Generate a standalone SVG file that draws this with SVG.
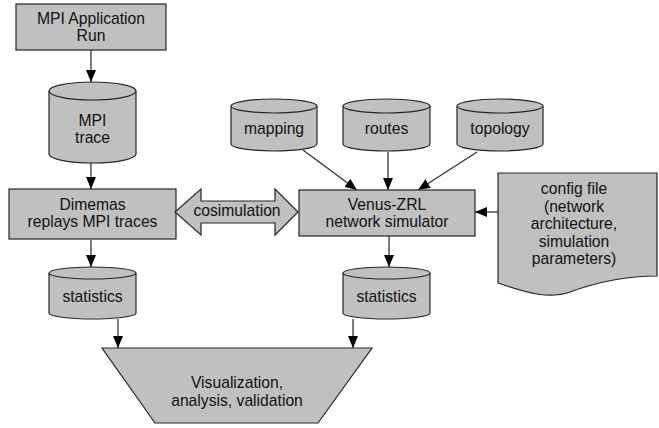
<svg xmlns="http://www.w3.org/2000/svg" width="659" height="428" viewBox="0 0 659 428">
<defs>
<style>
.s{fill:#c0c0c0;stroke:#262626;stroke-width:1.2}
.e{fill:none;stroke:#262626;stroke-width:1.2}
.t{font-family:"Liberation Sans",Arial,sans-serif;font-size:15.7px;fill:#111;text-anchor:middle}
.c{fill:none;stroke:#333;stroke-width:1.3}
</style>
<marker id="ah" markerUnits="userSpaceOnUse" markerWidth="12" markerHeight="10" refX="12" refY="5" orient="auto">
<path d="M0,0 L12,5 L0,10 Z" fill="#000"/>
</marker>
</defs>
<rect width="659" height="428" fill="#fff"/>

<g id="connectors">
<line class="c" x1="91" y1="50" x2="91" y2="82" marker-end="url(#ah)"/>
<line class="c" x1="91" y1="163" x2="91" y2="189" marker-end="url(#ah)"/>
<line class="c" x1="91" y1="240" x2="91" y2="267" marker-end="url(#ah)"/>
<line class="c" x1="118" y1="319" x2="118" y2="348" marker-end="url(#ah)"/>
<line class="c" x1="389" y1="236" x2="389" y2="267" marker-end="url(#ah)"/>
<line class="c" x1="353" y1="319" x2="353" y2="348" marker-end="url(#ah)"/>
<line class="c" x1="303" y1="150" x2="357" y2="190" marker-end="url(#ah)"/>
<line class="c" x1="388" y1="152" x2="388" y2="190" marker-end="url(#ah)"/>
<line class="c" x1="477" y1="152" x2="418" y2="190" marker-end="url(#ah)"/>
<line class="c" x1="498" y1="212" x2="475" y2="212" marker-end="url(#ah)"/>
</g>

<g id="mpi-app">
<rect class="s" x="16" y="4" width="150" height="46"/>
<text class="t" x="91" y="23.5">MPI Application</text>
<text class="t" x="91" y="40.5">Run</text>
</g>

<g id="mpi-trace">
<path class="s" d="M49,91 A43.5,9 0 0 1 136,91 L136,154 A43.5,9 0 0 1 49,154 Z"/>
<path class="e" d="M49,91 A43.5,9 0 0 0 136,91"/>
<text class="t" x="92.5" y="125.5">MPI</text>
<text class="t" x="92.5" y="142.5">trace</text>
</g>

<g id="dimemas">
<rect class="s" x="9" y="189" width="167" height="50"/>
<text class="t" x="92.5" y="210">Dimemas</text>
<text class="t" x="92.5" y="227">replays MPI traces</text>
</g>

<g id="cosimulation">
<polygon class="s" points="175,212 201,189 201,201 275,201 275,189 298,212 275,235 275,223 201,223 201,235"/>
<text class="t" x="237" y="216">cosimulation</text>
</g>

<g id="venus">
<rect class="s" x="299" y="190" width="176" height="46"/>
<text class="t" x="387" y="210">Venus-ZRL</text>
<text class="t" x="387" y="227">network simulator</text>
</g>

<g id="mapping">
<path class="s" d="M231,106 A43,7 0 0 1 317,106 L317,144 A43,7 0 0 1 231,144 Z"/>
<path class="e" d="M231,106 A43,7 0 0 0 317,106"/>
<text class="t" x="274" y="133.5">mapping</text>
</g>

<g id="routes">
<path class="s" d="M343,106 A43.5,7 0 0 1 430,106 L430,144 A43.5,7 0 0 1 343,144 Z"/>
<path class="e" d="M343,106 A43.5,7 0 0 0 430,106"/>
<text class="t" x="386.5" y="133.5">routes</text>
</g>

<g id="topology">
<path class="s" d="M457,106 A43,7 0 0 1 543,106 L543,144 A43,7 0 0 1 457,144 Z"/>
<path class="e" d="M457,106 A43,7 0 0 0 543,106"/>
<text class="t" x="500" y="133.5">topology</text>
</g>

<g id="config">
<path class="s" d="M498,173 L657,173 L657,276 C630,276 600,281 570,292 C550,299 530,294 498,283 Z"/>
<text class="t" x="574" y="194">config file</text>
<text class="t" x="574" y="211.5">(network</text>
<text class="t" x="574" y="229">architecture,</text>
<text class="t" x="574" y="246.5">simulation</text>
<text class="t" x="574" y="264">parameters)</text>
</g>

<g id="stats-left">
<path class="s" d="M49,273 A43.5,6 0 0 1 136,273 L136,313 A43.5,6 0 0 1 49,313 Z"/>
<path class="e" d="M49,273 A43.5,6 0 0 0 136,273"/>
<text class="t" x="92.5" y="302">statistics</text>
</g>

<g id="stats-right">
<path class="s" d="M343,273 A43.5,6 0 0 1 430,273 L430,313 A43.5,6 0 0 1 343,313 Z"/>
<path class="e" d="M343,273 A43.5,6 0 0 0 430,273"/>
<text class="t" x="386.5" y="302">statistics</text>
</g>

<g id="visualization">
<polygon class="s" points="102,348 372,348 318,423 155,423"/>
<text class="t" x="237" y="388">Visualization,</text>
<text class="t" x="237" y="406">analysis, validation</text>
</g>
</svg>
